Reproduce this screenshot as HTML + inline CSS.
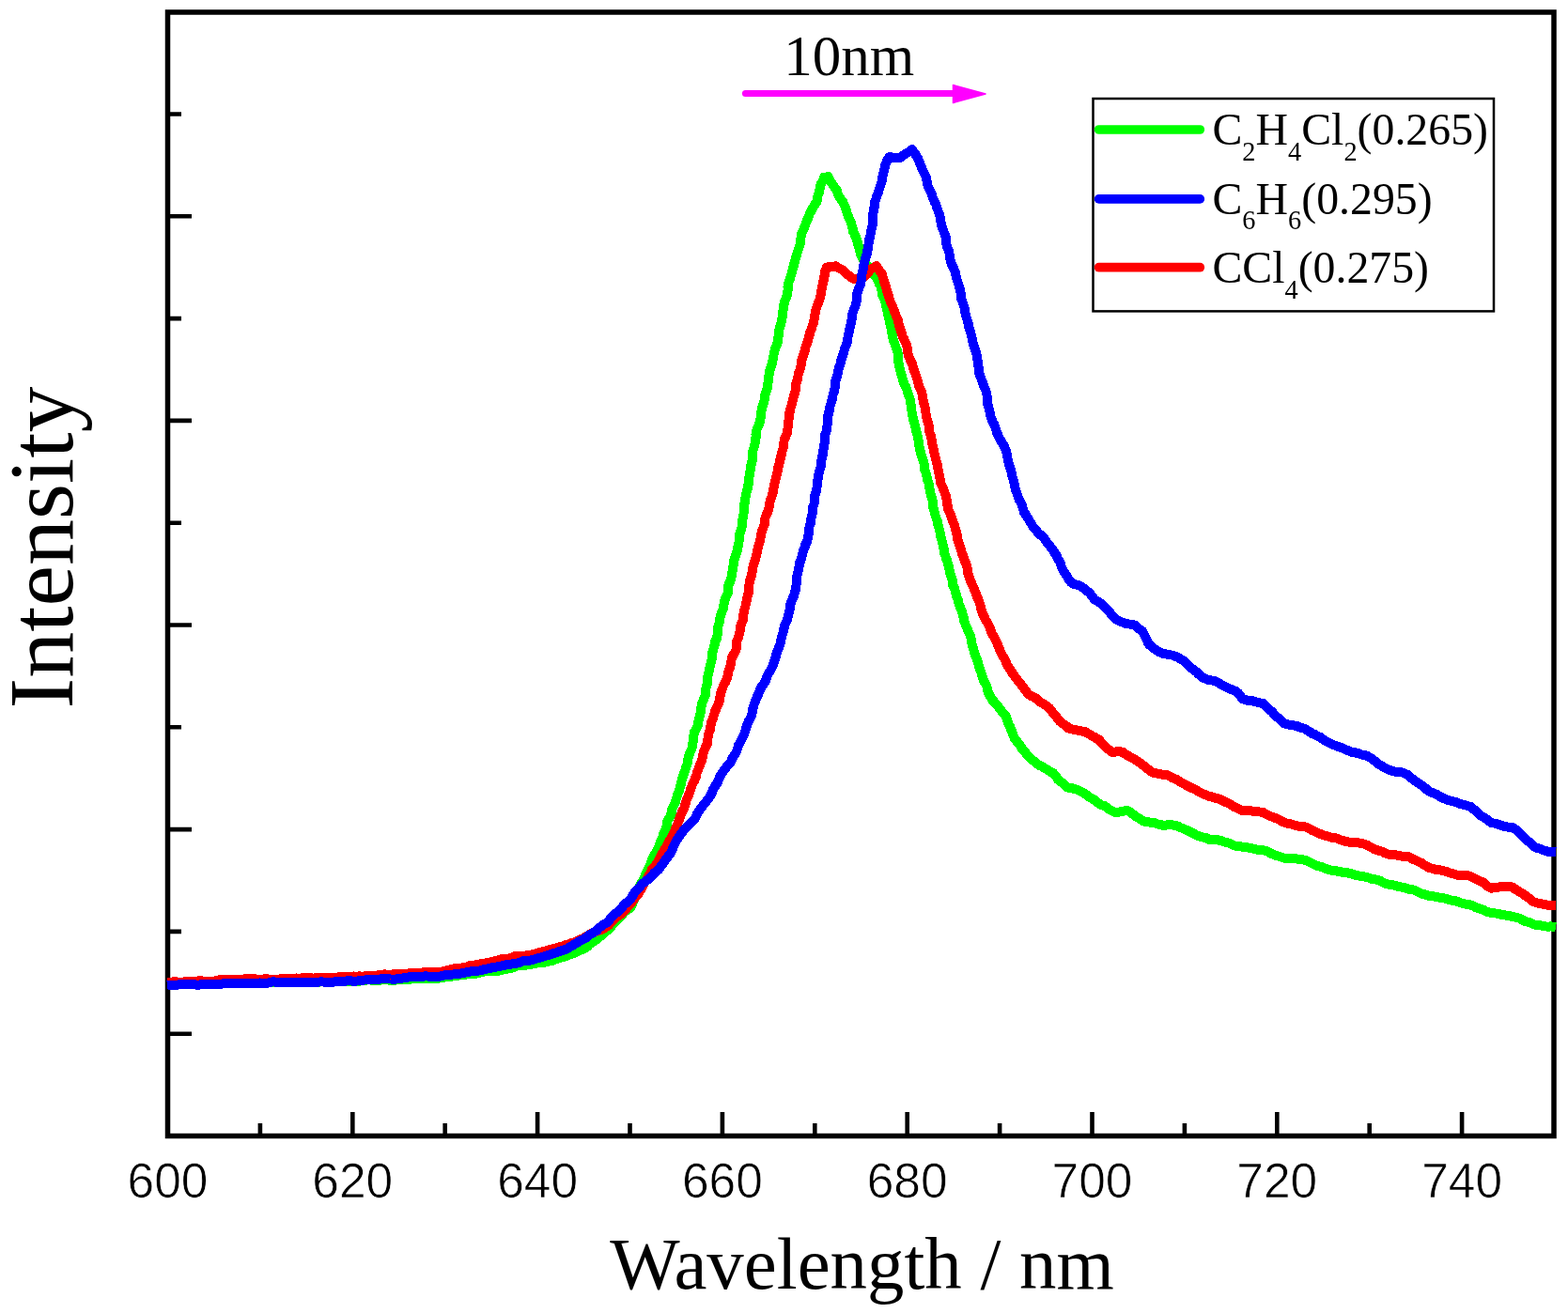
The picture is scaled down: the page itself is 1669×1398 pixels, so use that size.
<!DOCTYPE html><html><head><meta charset="utf-8"><title>Wavelength vs Intensity</title>
<style>html,body{margin:0;padding:0;background:#fff;overflow:hidden;}svg{display:block;}.tk{font-family:"Liberation Sans",Arial,sans-serif;font-size:51.5px;stroke:#fff;stroke-width:0.7px;}.sf{font-family:"Liberation Serif","Times New Roman",serif;}</style></head><body>
<svg width="1669" height="1398" viewBox="0 0 1669 1398">
<rect width="1669" height="1398" fill="#fff"/>
<rect x="178.5" y="13" width="1475.5" height="1196.5" fill="none" stroke="#000" stroke-width="5.5"/>
<path stroke="#000" stroke-width="4.6" fill="none" d="M276.9 1209.5V1196M375.3 1209.5V1184M473.7 1209.5V1196M572.1 1209.5V1184M670.5 1209.5V1196M768.9 1209.5V1184M867.3 1209.5V1196M965.7 1209.5V1184M1064.1 1209.5V1196M1162.5 1209.5V1184M1260.9 1209.5V1196M1359.3 1209.5V1184M1457.7 1209.5V1196M1556.1 1209.5V1184M178.5 121.5H193M178.5 230.3H204M178.5 339.1H193M178.5 447.9H204M178.5 556.7H193M178.5 665.5H204M178.5 774.3H193M178.5 883.1H204M178.5 991.9H193M178.5 1100.7H204"/>
<g fill="none" stroke-width="10" stroke-linejoin="round" stroke-linecap="butt">
<path shape-rendering="crispEdges" stroke="#00ff00" d="M178.0 1048.0L181.0 1048.2L183.9 1048.2L186.9 1047.8L189.9 1047.5L192.8 1047.8L195.8 1048.0L198.8 1047.6L201.7 1047.1L204.7 1047.0L207.7 1047.3L210.7 1047.8L213.6 1047.1L216.6 1047.0L219.5 1046.9L222.5 1047.1L225.5 1047.5L228.5 1047.6L231.4 1047.3L234.4 1046.5L237.3 1046.1L240.3 1046.9L243.3 1047.1L246.3 1046.8L249.2 1046.3L252.2 1045.9L255.1 1045.9L258.1 1045.8L261.1 1046.2L264.1 1046.1L267.0 1045.9L270.0 1045.6L273.0 1045.8L276.1 1045.8L279.1 1045.6L282.1 1045.8L285.2 1046.0L288.2 1046.5L291.2 1045.9L294.2 1046.3L297.3 1046.4L300.3 1046.3L303.3 1045.7L306.4 1045.6L309.4 1046.0L312.4 1046.5L315.5 1046.2L318.5 1046.3L321.5 1046.0L324.5 1045.9L327.6 1045.6L330.6 1045.7L333.6 1046.2L336.7 1046.1L339.7 1045.8L342.7 1045.0L345.8 1044.8L348.8 1044.9L351.8 1045.2L354.8 1045.1L357.9 1044.8L360.9 1045.1L363.9 1045.4L367.0 1045.3L370.0 1045.0L373.0 1044.7L376.1 1045.0L379.1 1044.9L382.1 1044.7L385.1 1044.3L388.2 1043.8L391.2 1043.4L394.2 1043.4L397.3 1044.1L400.3 1044.5L403.3 1044.1L406.4 1043.3L409.4 1043.1L412.4 1043.4L415.5 1043.8L418.5 1043.7L421.5 1043.5L424.5 1042.9L427.6 1042.8L430.6 1042.7L433.7 1042.9L436.7 1042.8L439.7 1042.0L442.7 1041.9L445.8 1042.2L448.8 1041.9L451.8 1041.9L454.9 1041.7L457.9 1042.3L460.9 1042.2L464.0 1042.0L467.0 1041.6L470.0 1041.3L473.0 1040.6L476.0 1039.9L479.0 1039.7L482.0 1039.5L485.0 1039.2L488.0 1038.6L491.0 1038.1L494.0 1037.9L497.0 1037.4L500.0 1037.0L503.0 1036.9L506.0 1036.7L509.0 1036.3L512.0 1035.4L514.9 1034.7L517.9 1034.1L520.9 1034.1L524.0 1034.1L527.1 1034.1L530.1 1033.8L533.1 1033.3L536.1 1032.3L539.1 1031.8L542.0 1031.2L545.0 1030.6L547.9 1029.4L550.8 1028.3L553.9 1028.4L556.9 1028.1L559.9 1027.7L562.9 1027.1L565.9 1026.6L568.7 1026.2L571.5 1025.4L574.3 1025.2L577.1 1024.9L579.9 1024.6L582.8 1023.9L585.7 1023.3L588.6 1022.6L591.4 1021.5L594.2 1020.4L597.0 1019.6L599.9 1018.8L602.8 1018.1L605.5 1016.6L608.5 1015.7L611.5 1014.7L614.4 1013.5L617.2 1012.0L620.1 1011.0L622.9 1009.5L625.5 1007.8L627.3 1005.4L630.0 1003.9L632.4 1002.0L635.0 1000.3L637.3 998.3L639.8 996.5L641.8 994.2L644.3 992.4L646.7 990.5L649.2 988.7L650.8 986.1L652.8 983.9L654.8 981.7L657.1 979.8L659.0 977.4L661.2 975.5L663.0 973.0L665.0 970.9L667.3 969.0L669.9 967.3L672.1 965.1L673.2 962.4L673.9 959.6L675.6 957.2L676.7 954.6L677.9 952.0L678.6 949.2L679.2 946.3L680.7 943.9L681.8 941.1L683.6 938.7L684.9 936.0L686.5 933.5L687.2 930.6L688.4 927.9L689.9 925.3L691.6 922.8L692.5 920.0L693.3 917.1L694.2 914.3L695.7 911.3L697.7 908.5L699.4 905.7L701.1 902.8L701.7 899.8L702.9 897.0L703.9 894.2L705.2 891.5L705.9 888.5L707.4 885.8L708.7 883.1L709.5 880.1L709.9 877.1L710.4 874.1L712.2 871.5L713.7 868.8L714.6 865.9L715.0 862.9L715.9 860.0L717.2 857.3L718.8 854.6L719.5 851.6L720.5 848.8L721.3 845.9L722.4 843.1L723.4 840.2L724.0 837.2L725.2 834.4L725.5 831.3L726.4 828.5L727.3 825.7L728.2 822.8L729.5 820.1L730.0 817.2L731.3 814.5L731.8 811.5L732.4 808.6L732.7 805.6L733.9 802.9L734.9 800.1L736.2 797.4L737.0 794.5L737.3 791.6L737.8 788.7L737.9 785.7L738.5 782.8L738.9 779.9L740.3 777.2L741.6 774.6L743.0 771.9L743.3 768.9L743.9 766.0L744.6 763.1L745.3 760.3L746.0 757.4L746.2 754.4L746.7 751.5L747.2 748.5L748.5 745.8L749.6 743.0L750.7 740.3L750.9 737.4L751.2 734.4L751.7 731.6L752.6 728.8L752.9 725.9L753.4 723.0L753.4 720.0L754.0 717.2L754.8 714.3L755.3 711.5L756.0 708.6L756.6 705.8L757.5 703.0L758.0 700.1L757.9 697.1L758.3 694.2L759.4 691.5L759.9 688.6L761.0 685.8L761.3 682.9L762.7 680.2L763.4 677.4L763.9 674.5L764.0 671.5L764.2 668.6L764.7 665.7L765.7 662.9L766.0 659.9L766.5 657.0L767.5 654.2L768.5 651.4L769.7 648.7L769.9 645.7L770.7 642.9L771.0 639.9L772.1 637.1L773.3 634.4L774.8 631.7L774.9 628.7L774.9 625.7L775.4 622.8L776.8 620.1L777.8 617.3L778.5 614.4L779.0 611.5L779.5 608.6L780.0 605.7L780.5 602.8L781.2 599.9L781.3 597.0L781.9 594.2L783.1 591.5L784.0 588.7L784.8 585.9L785.1 583.1L786.1 580.3L786.5 577.4L786.7 574.6L786.8 571.6L787.2 568.7L788.2 566.0L789.2 563.2L789.7 560.3L789.7 557.4L789.9 554.4L790.7 551.6L791.4 548.8L791.6 545.9L791.7 542.9L791.8 540.0L792.1 537.1L793.0 534.3L793.2 531.5L793.7 528.6L794.2 525.7L794.8 522.9L795.8 520.1L796.1 517.3L797.0 514.5L796.9 511.5L797.4 508.7L797.7 505.8L798.1 502.9L798.9 500.1L798.8 497.2L799.8 494.4L800.3 491.6L801.3 488.8L801.3 485.9L801.1 482.9L801.3 480.0L802.3 477.2L803.0 474.4L803.8 471.6L803.7 468.6L804.7 465.8L804.5 462.9L805.1 460.0L805.6 457.2L806.9 454.4L808.1 451.7L808.8 448.8L809.5 446.0L810.0 443.1L810.2 440.1L810.6 437.1L810.9 434.2L812.0 431.4L812.9 428.6L813.6 425.8L813.6 422.8L814.5 420.0L815.5 417.2L816.5 414.4L816.7 411.5L817.3 408.7L817.8 405.8L818.3 402.9L818.4 399.9L819.0 397.1L819.4 394.2L820.4 391.4L821.2 388.6L822.3 385.9L822.6 382.9L823.2 380.1L823.6 377.2L824.3 374.3L825.0 371.5L826.2 368.8L827.2 366.0L828.0 363.2L828.3 360.3L828.7 357.4L828.9 354.5L829.3 351.6L830.0 348.8L831.0 346.1L831.5 343.2L832.1 340.3L832.7 337.5L833.0 334.6L833.4 331.7L833.7 328.8L834.1 325.9L834.7 323.1L835.4 320.2L836.7 317.5L837.7 314.7L838.1 311.8L838.6 308.9L838.5 305.9L839.0 303.0L839.5 300.1L840.8 297.4L841.5 294.5L842.4 291.7L843.1 288.9L844.0 286.0L844.7 283.2L845.4 280.3L846.3 277.4L847.1 274.6L847.8 271.7L848.7 268.9L849.6 266.1L850.6 263.2L851.6 260.5L852.2 257.5L852.4 254.5L852.6 251.5L853.2 248.7L854.5 246.2L855.8 243.6L856.6 240.9L857.6 238.3L858.5 235.6L859.7 233.1L860.9 230.4L861.8 227.5L863.4 225.0L864.4 222.2L866.3 219.8L867.7 217.2L869.5 214.7L869.8 211.3L870.6 208.3L871.7 205.2L872.4 202.1L873.0 199.0L873.7 195.9L875.3 193.7L876.4 191.2L877.2 188.7L879.6 188.5L881.6 188.1L882.7 190.6L884.2 193.4L885.9 196.0L887.4 198.3L889.1 200.4L890.7 202.6L891.5 205.3L892.4 208.0L893.8 210.4L895.5 212.7L897.3 214.9L898.4 217.9L899.7 220.8L900.9 223.8L901.5 226.9L902.8 229.9L903.9 232.8L905.2 235.4L906.2 238.1L906.8 240.8L907.7 243.6L908.0 246.5L909.4 249.0L910.6 251.6L911.8 254.6L912.7 257.7L913.4 260.9L914.6 263.9L915.2 267.1L916.0 270.3L917.1 273.0L918.3 275.6L920.0 278.0L921.7 280.3L923.2 282.7L924.6 285.3L926.3 287.9L928.4 290.3L930.5 292.7L932.6 295.1L934.1 297.9L935.4 300.2L936.1 302.8L937.5 305.0L938.0 307.6L938.7 310.7L939.1 313.8L940.6 316.8L941.6 319.8L942.7 322.8L943.3 326.0L943.9 329.1L944.7 332.1L945.1 335.3L946.2 338.3L946.7 341.4L947.4 344.5L947.9 347.6L948.8 350.7L949.3 353.9L949.7 357.1L950.4 360.2L951.3 363.3L952.4 366.3L953.4 369.3L954.7 372.3L955.5 375.4L955.9 378.6L956.0 381.8L956.2 385.0L956.9 388.0L957.4 391.0L958.3 394.0L958.7 397.1L959.8 400.0L960.6 403.0L961.4 405.9L962.5 408.7L963.9 411.4L965.2 414.2L966.0 417.1L966.8 420.0L968.0 422.7L968.7 425.6L969.3 428.5L969.6 431.4L969.9 434.3L970.4 437.2L970.8 440.1L971.4 443.0L971.9 445.9L972.7 448.7L973.5 451.6L974.2 454.4L974.8 457.3L975.5 460.1L976.3 462.9L977.0 465.8L977.6 468.7L977.8 471.6L978.3 474.5L978.8 477.4L979.6 480.2L980.2 483.1L981.0 485.9L982.0 488.7L983.1 491.4L983.7 494.3L983.9 497.3L984.3 500.2L985.4 503.0L986.1 505.8L986.8 508.7L987.2 511.6L988.5 514.3L989.1 517.2L989.5 520.1L989.8 523.0L990.6 525.9L991.3 528.7L992.3 531.5L992.8 534.4L993.2 537.3L993.3 540.3L994.1 543.2L994.9 546.0L995.6 548.8L996.5 551.7L997.6 554.4L998.1 557.3L998.8 560.2L999.6 563.0L1000.3 565.9L1000.9 568.8L1001.3 571.7L1002.3 574.5L1002.8 577.4L1003.7 580.2L1004.3 583.1L1005.0 586.0L1005.2 589.0L1006.3 591.8L1007.1 594.6L1008.4 597.3L1008.9 600.3L1010.1 603.0L1010.4 606.0L1010.9 608.9L1011.6 611.8L1012.9 614.6L1013.6 617.4L1014.0 620.4L1014.3 623.4L1015.9 626.0L1016.5 628.9L1017.5 631.8L1018.0 634.7L1019.3 637.4L1020.2 640.3L1020.7 643.3L1021.8 646.1L1022.9 648.9L1024.3 651.6L1024.6 654.7L1025.7 657.5L1026.0 660.6L1027.2 663.4L1028.0 666.3L1029.4 668.9L1030.5 671.8L1031.8 674.5L1032.9 677.3L1033.6 680.3L1034.2 683.4L1034.6 686.5L1035.8 689.3L1036.4 692.4L1037.3 695.3L1038.1 698.3L1039.4 701.1L1040.6 704.0L1041.3 707.0L1042.1 710.0L1043.1 712.9L1044.3 715.7L1045.2 718.6L1045.9 721.8L1047.0 724.7L1048.7 727.4L1050.1 730.2L1050.9 733.2L1051.5 736.4L1052.8 739.3L1054.4 742.0L1055.8 744.8L1057.9 746.8L1059.5 749.3L1061.8 751.1L1063.4 753.5L1065.3 755.7L1066.9 758.1L1068.8 760.2L1070.8 762.4L1071.6 765.3L1072.5 768.1L1073.4 770.9L1075.0 773.4L1075.9 776.2L1077.2 778.8L1078.1 781.6L1079.1 784.4L1080.4 787.3L1082.6 789.6L1084.5 792.1L1086.4 794.6L1088.0 797.3L1090.1 799.7L1092.0 802.1L1094.1 804.5L1096.5 806.7L1098.7 808.9L1101.2 810.9L1103.7 812.9L1106.1 815.0L1108.9 816.0L1111.3 817.5L1113.8 818.8L1116.2 820.3L1118.5 822.0L1121.2 823.2L1123.1 825.5L1124.8 827.9L1126.4 830.4L1128.7 832.2L1131.2 833.8L1133.3 835.8L1135.2 837.8L1137.9 838.8L1140.9 839.1L1143.7 840.1L1146.6 840.8L1149.3 842.1L1152.0 843.5L1154.6 844.9L1157.0 846.8L1159.6 848.6L1162.3 850.2L1165.0 851.8L1167.4 853.8L1169.9 855.8L1172.6 857.4L1175.4 858.0L1177.7 859.6L1180.0 861.2L1182.2 862.8L1184.8 863.9L1187.2 865.2L1190.4 864.9L1193.5 864.0L1196.6 863.4L1199.9 862.8L1202.6 864.5L1204.9 866.5L1207.5 868.0L1209.8 869.9L1212.5 871.3L1214.9 873.0L1217.5 874.6L1220.6 875.3L1223.7 875.5L1226.6 876.3L1229.7 876.4L1232.6 877.6L1235.6 878.1L1238.6 879.0L1241.7 878.5L1244.7 878.2L1247.7 878.4L1250.7 879.1L1253.7 879.6L1256.1 881.0L1258.9 882.0L1261.4 883.4L1264.2 884.3L1266.7 885.6L1269.3 886.8L1271.8 888.3L1274.5 889.9L1277.6 890.7L1280.7 891.6L1283.9 892.0L1286.6 893.7L1289.7 894.4L1293.1 894.5L1296.6 894.4L1300.0 895.2L1302.8 896.3L1305.6 896.9L1308.4 897.7L1311.0 898.9L1313.6 900.3L1316.5 900.8L1319.3 901.3L1322.2 901.6L1325.3 902.2L1328.5 902.5L1331.6 903.1L1334.7 903.7L1337.8 904.6L1340.9 905.3L1344.2 905.1L1347.0 905.9L1349.8 906.8L1352.3 908.5L1355.1 909.5L1357.7 910.8L1360.6 911.6L1363.4 912.5L1366.2 913.5L1369.4 914.1L1372.6 914.3L1375.8 914.1L1379.0 914.1L1382.1 914.8L1385.3 915.1L1388.5 915.6L1391.3 916.8L1394.1 917.9L1396.7 919.4L1399.4 920.6L1402.1 921.9L1405.1 922.6L1407.9 923.5L1410.6 924.7L1413.3 925.6L1416.0 926.3L1418.8 927.0L1421.7 927.0L1424.4 927.9L1427.2 928.3L1429.9 929.0L1432.8 928.8L1435.9 929.9L1439.0 930.5L1442.1 931.7L1445.2 932.1L1448.3 933.0L1451.5 933.4L1454.6 933.9L1457.2 934.8L1460.0 935.8L1463.0 936.1L1465.9 936.7L1468.7 937.5L1471.2 939.2L1473.9 940.3L1476.7 941.4L1479.5 941.9L1482.4 942.2L1485.1 943.1L1487.9 943.7L1490.6 944.4L1493.5 944.7L1496.2 945.7L1498.9 946.5L1501.7 947.2L1504.7 947.5L1507.4 948.6L1510.1 949.9L1512.6 951.5L1515.5 952.1L1518.3 952.9L1521.1 953.8L1523.9 954.2L1526.7 954.5L1529.5 954.9L1532.2 955.6L1535.0 956.2L1537.8 956.5L1540.5 957.3L1543.2 958.2L1546.0 958.8L1548.9 959.0L1551.6 960.0L1554.2 961.1L1557.0 961.9L1559.7 962.6L1562.6 962.7L1565.4 963.6L1568.1 964.6L1570.7 966.1L1573.5 967.0L1576.2 968.0L1579.0 968.8L1581.6 970.3L1584.4 971.2L1587.3 972.1L1590.5 972.4L1593.7 972.6L1596.8 973.5L1599.9 974.1L1603.1 974.7L1606.2 975.1L1609.3 975.8L1612.1 976.5L1615.0 977.1L1617.9 978.0L1620.5 979.5L1623.1 980.8L1626.0 981.7L1628.9 982.5L1631.5 983.9L1634.2 984.7L1636.8 985.5L1639.7 985.3L1642.3 985.9L1645.0 986.4L1647.8 986.7L1650.5 986.4L1653.3 986.8L1656.0 987.2"/>
<path shape-rendering="crispEdges" stroke="#ff0000" d="M178.0 1046.0L181.0 1046.3L183.9 1045.4L186.9 1045.2L189.9 1045.7L192.9 1046.1L195.8 1045.5L198.8 1045.3L201.7 1045.1L204.7 1045.2L207.7 1044.7L210.6 1044.5L213.6 1044.2L216.6 1044.6L219.6 1044.9L222.6 1045.3L225.5 1045.0L228.5 1044.5L231.4 1043.8L234.4 1043.2L237.3 1042.7L240.3 1042.8L243.3 1042.9L246.2 1043.1L249.2 1043.4L252.2 1043.4L255.2 1043.5L258.1 1042.8L261.1 1042.3L264.0 1041.9L267.0 1041.7L270.0 1042.0L273.0 1042.5L276.1 1042.9L279.1 1042.6L282.1 1042.4L285.2 1042.4L288.2 1042.8L291.2 1042.8L294.3 1042.7L297.3 1042.6L300.3 1042.1L303.3 1042.2L306.4 1042.3L309.4 1042.0L312.4 1041.8L315.5 1041.5L318.5 1041.7L321.5 1041.4L324.5 1041.1L327.6 1041.4L330.6 1041.3L333.7 1041.6L336.7 1041.0L339.7 1041.2L342.7 1041.2L345.8 1041.2L348.8 1040.9L351.8 1040.8L354.9 1041.0L357.9 1040.8L360.9 1040.2L363.9 1039.8L367.0 1039.9L370.0 1039.7L373.0 1040.1L376.1 1039.5L379.1 1040.0L382.1 1039.3L385.2 1039.7L388.2 1039.4L391.2 1039.4L394.3 1038.9L397.3 1038.6L400.3 1038.6L403.3 1038.2L406.3 1037.7L409.4 1037.4L412.4 1037.8L415.5 1038.0L418.5 1037.4L421.5 1037.2L424.6 1037.1L427.6 1037.6L430.6 1036.9L433.7 1036.8L436.6 1035.9L439.7 1036.1L442.7 1035.6L445.7 1035.5L448.8 1035.6L451.8 1035.3L454.8 1035.3L457.9 1035.2L460.9 1035.1L463.9 1034.7L467.0 1034.5L470.0 1034.5L473.1 1034.4L475.9 1033.1L478.9 1032.5L481.9 1031.5L485.0 1031.4L487.9 1030.6L491.0 1030.7L493.9 1029.6L497.0 1029.6L499.9 1028.3L502.9 1027.9L505.9 1027.4L509.0 1027.0L511.9 1026.3L514.9 1025.7L518.0 1025.3L520.9 1024.6L524.0 1024.2L526.9 1023.3L529.9 1022.7L532.8 1021.5L535.9 1021.3L539.0 1021.2L542.0 1020.4L544.9 1019.6L547.8 1018.3L550.9 1018.0L554.0 1017.7L557.1 1017.7L560.2 1017.4L563.2 1016.8L566.2 1016.3L568.9 1015.6L571.7 1014.9L574.4 1013.9L577.2 1013.4L579.9 1012.8L582.6 1011.8L585.3 1010.9L588.2 1010.5L591.0 1009.7L593.8 1009.0L596.4 1007.8L599.2 1007.3L601.9 1006.1L605.0 1005.5L608.0 1004.2L611.1 1003.5L613.9 1002.0L616.9 1000.7L619.8 999.6L622.6 998.0L625.4 996.6L628.1 994.7L631.0 993.3L633.8 991.9L636.9 991.0L639.9 989.8L642.7 988.5L645.2 986.8L647.8 985.3L649.7 982.9L651.8 980.7L653.7 978.3L656.2 976.6L658.6 974.9L661.3 973.3L663.5 971.2L665.5 968.8L667.4 966.4L669.5 964.2L671.5 961.8L673.4 959.5L675.1 956.8L677.0 954.2L679.3 951.9L681.0 949.1L682.9 946.5L684.3 943.6L685.5 941.1L686.9 938.5L688.5 936.1L689.9 933.6L691.3 931.1L692.7 928.5L693.8 925.9L695.8 923.7L697.6 921.5L699.6 919.3L700.8 916.7L702.1 914.1L703.5 911.7L704.7 909.2L706.1 906.8L707.5 904.4L709.1 902.2L710.3 899.7L711.8 897.0L713.2 894.2L714.8 891.5L716.2 888.7L717.7 885.9L718.8 883.0L720.1 880.2L721.2 877.3L722.3 874.3L723.4 871.4L724.2 868.4L725.6 865.7L726.8 862.8L728.3 860.2L729.2 857.2L730.0 854.2L730.9 851.3L732.3 848.6L733.2 845.6L734.5 842.8L735.2 839.8L736.4 837.0L737.3 834.1L739.1 831.5L740.0 828.6L741.3 825.8L741.7 822.7L743.1 820.0L743.9 817.1L745.1 814.3L746.2 811.5L747.3 808.6L748.0 805.7L748.5 802.6L749.2 799.7L750.5 797.1L751.5 794.4L752.9 791.7L753.4 788.8L753.5 785.9L753.9 783.0L754.6 780.2L755.8 777.5L756.3 774.6L756.6 771.7L757.3 768.8L758.5 766.0L759.3 763.1L760.3 760.2L761.0 757.3L762.5 754.6L763.6 751.8L764.9 749.1L765.7 746.2L766.3 743.2L766.7 740.1L767.4 737.1L768.4 734.3L769.5 731.5L770.7 728.7L772.2 726.0L773.4 723.2L774.5 720.4L774.8 717.3L775.6 714.3L776.6 711.5L777.5 708.7L778.4 705.8L778.5 702.7L779.3 699.9L780.6 697.1L782.2 694.5L783.5 691.8L783.8 688.7L784.0 685.7L784.3 682.8L785.4 680.0L786.4 677.2L787.2 674.4L787.7 671.5L787.9 668.6L788.6 665.7L789.6 662.9L790.8 660.2L791.1 657.3L791.3 654.3L791.8 651.5L792.5 648.6L793.4 645.8L793.8 642.9L794.7 640.1L794.9 637.2L795.9 634.4L796.6 631.6L797.3 628.7L797.2 625.7L797.5 622.8L797.6 619.9L798.5 617.1L799.5 614.3L800.2 611.5L800.7 608.6L800.9 605.7L801.6 602.8L802.4 600.0L803.5 597.3L804.4 594.5L804.9 591.6L805.7 588.8L806.1 585.9L807.0 583.1L807.5 580.2L808.5 577.5L809.3 574.7L809.7 571.8L810.3 568.9L810.8 565.9L811.9 563.1L813.0 560.3L813.9 557.5L814.2 554.5L814.5 551.5L815.4 548.7L816.9 546.0L817.8 543.2L818.6 540.3L818.6 537.3L819.6 534.5L820.2 531.6L821.4 528.9L822.1 526.0L823.0 523.2L823.3 520.2L823.9 517.3L824.6 514.4L825.3 511.6L826.0 508.7L826.6 505.8L827.3 503.0L828.0 500.1L828.4 497.2L829.4 494.4L829.8 491.5L830.6 488.6L831.3 485.8L832.0 482.9L832.6 480.0L833.6 477.2L833.9 474.3L834.4 471.4L834.6 468.5L835.9 465.7L837.1 463.0L838.0 460.2L838.3 457.3L838.8 454.4L839.0 451.5L839.3 448.6L839.7 445.7L839.9 442.8L840.3 439.9L841.0 437.1L841.6 434.2L842.6 431.5L843.2 428.6L844.1 425.8L844.7 423.0L845.4 420.1L846.5 417.3L846.8 414.4L847.0 411.4L847.3 408.4L848.3 405.6L849.1 402.8L849.5 399.9L850.2 396.9L851.4 393.9L852.3 391.0L852.9 387.9L853.1 384.8L853.8 381.8L855.0 378.7L855.9 375.6L857.0 372.6L857.6 369.4L858.7 366.3L859.9 363.3L860.5 360.1L861.6 357.1L862.1 353.8L863.5 350.9L864.4 347.8L865.6 344.7L866.2 341.6L867.0 338.5L867.3 335.3L868.2 332.2L868.6 329.0L869.7 326.0L870.9 323.0L872.1 320.0L873.1 316.9L873.6 313.7L874.1 310.4L874.9 307.3L875.3 304.4L875.8 301.5L876.6 298.7L877.0 295.8L877.9 293.0L877.8 290.0L879.0 287.5L879.8 284.7L883.0 284.0L886.1 283.8L889.4 283.3L892.6 285.3L895.7 286.7L898.5 288.9L900.6 291.1L902.8 293.0L905.3 294.7L907.7 296.6L910.7 296.7L913.5 296.5L916.3 296.1L918.6 296.3L920.6 294.3L922.6 291.9L924.6 289.5L926.5 287.0L928.6 285.6L931.0 284.6L933.0 283.1L934.4 285.5L936.0 287.9L937.8 290.2L939.1 292.7L939.9 295.6L940.7 298.5L941.7 301.4L942.6 304.3L943.4 307.3L944.2 310.2L945.3 313.2L946.1 316.3L947.1 319.3L948.1 322.3L949.6 325.1L950.7 328.1L951.9 331.0L952.9 334.0L954.1 337.0L955.5 339.8L956.0 343.0L957.0 346.0L957.8 349.1L958.8 352.1L960.0 355.0L960.6 358.1L962.2 360.9L963.3 363.9L964.8 366.7L965.6 369.8L965.9 373.0L966.5 376.2L967.1 379.3L968.5 382.2L969.7 384.9L971.1 387.6L971.7 390.5L972.7 393.3L973.6 396.2L974.7 399.0L975.7 401.9L976.6 404.9L977.3 408.0L978.2 411.0L979.3 413.9L980.8 416.7L981.5 419.8L982.0 422.7L982.6 425.6L983.1 428.5L983.9 431.3L984.6 434.2L985.0 437.1L985.5 440.0L986.1 442.8L986.6 445.7L987.4 448.5L988.3 451.4L988.8 454.2L989.2 457.2L989.3 460.1L990.5 462.9L991.1 465.7L991.7 468.6L992.2 471.5L992.6 474.4L993.5 477.2L994.1 480.1L994.5 483.0L995.3 485.8L995.9 488.7L996.9 491.5L997.6 494.3L997.9 497.3L998.6 500.1L999.0 503.0L999.9 505.8L1000.4 508.8L1000.8 511.8L1001.4 514.7L1002.6 517.4L1003.9 520.2L1004.9 523.0L1006.0 525.7L1007.1 528.5L1007.5 531.5L1008.2 534.4L1008.3 537.5L1009.3 540.3L1009.5 543.3L1011.0 546.0L1012.1 548.8L1013.0 551.6L1013.9 554.4L1015.0 557.2L1016.2 560.0L1016.9 562.9L1017.7 565.8L1018.3 568.7L1019.3 571.5L1019.4 574.6L1020.3 577.5L1021.2 580.3L1022.1 583.1L1023.3 585.9L1023.8 588.9L1025.0 591.6L1026.0 594.5L1026.9 597.3L1028.2 600.1L1029.1 602.9L1029.7 605.9L1030.0 609.0L1030.7 611.9L1031.8 614.7L1032.7 617.6L1033.9 620.4L1035.0 623.2L1036.5 625.8L1037.5 628.7L1038.7 631.4L1039.5 634.3L1040.8 637.0L1041.9 639.9L1043.0 642.8L1043.8 645.8L1044.5 648.9L1045.3 651.9L1046.5 654.7L1048.0 657.4L1049.2 660.3L1050.8 662.9L1052.4 665.6L1053.7 668.4L1054.5 671.4L1055.7 674.2L1057.2 676.9L1058.8 679.5L1060.0 682.3L1061.4 685.1L1062.6 687.8L1063.7 690.7L1064.8 693.6L1066.0 696.3L1067.6 699.0L1069.4 701.5L1070.6 704.3L1071.6 707.2L1073.2 709.8L1074.8 712.3L1076.6 714.8L1077.9 717.5L1079.9 719.8L1081.6 722.3L1083.5 724.6L1085.4 727.1L1087.5 729.5L1089.3 732.1L1091.1 734.7L1093.1 737.2L1095.2 739.7L1097.7 741.1L1100.4 742.1L1102.8 743.7L1105.0 745.4L1107.1 747.5L1109.5 748.8L1112.0 750.3L1114.4 752.0L1116.8 753.8L1118.5 756.2L1120.3 758.5L1122.3 760.6L1124.2 762.8L1126.0 765.2L1127.7 767.7L1130.0 769.5L1132.5 771.2L1135.0 772.9L1136.9 775.2L1139.8 776.1L1142.7 776.8L1145.7 777.4L1148.8 777.9L1151.7 778.6L1154.8 778.8L1157.3 780.5L1159.8 782.0L1162.3 783.7L1165.0 784.8L1167.5 786.5L1170.2 787.7L1171.8 790.5L1174.1 792.4L1176.0 794.7L1178.2 796.7L1181.1 798.8L1184.0 801.0L1187.6 800.5L1191.0 799.6L1193.4 800.6L1195.9 801.1L1198.2 803.2L1200.9 804.7L1203.5 806.2L1206.3 807.5L1208.8 809.2L1211.2 810.8L1213.5 812.4L1215.7 814.1L1218.0 815.7L1220.1 817.6L1222.3 819.3L1224.5 821.1L1226.8 822.5L1229.8 823.0L1232.7 823.9L1235.7 824.4L1238.7 824.9L1241.7 825.1L1244.5 826.1L1247.0 827.7L1249.7 829.0L1252.5 830.0L1255.1 831.7L1257.6 833.2L1260.3 834.6L1262.8 836.2L1265.4 837.4L1267.9 838.9L1270.6 839.7L1273.2 841.1L1275.6 842.7L1278.1 844.0L1280.6 845.4L1283.7 846.2L1286.5 847.7L1289.7 848.4L1292.6 849.5L1295.8 850.0L1298.8 851.2L1301.4 852.4L1304.0 853.8L1306.6 854.9L1309.2 856.0L1311.6 857.6L1314.0 859.3L1316.7 860.4L1319.3 861.5L1321.9 862.9L1325.2 862.9L1328.4 862.8L1331.6 863.2L1334.7 864.1L1337.8 864.4L1341.0 864.5L1344.1 864.7L1346.7 866.4L1349.5 867.9L1352.4 869.1L1355.3 870.2L1358.2 871.3L1361.2 872.4L1363.8 874.1L1366.5 875.5L1369.1 876.5L1371.9 876.8L1374.6 877.6L1377.3 878.5L1380.1 879.1L1382.8 879.7L1385.7 879.7L1388.5 880.2L1391.4 881.2L1394.1 882.5L1396.7 884.1L1399.5 885.2L1402.1 886.7L1404.9 887.8L1407.7 888.9L1410.5 889.9L1413.3 890.4L1416.0 891.5L1418.9 891.7L1421.7 892.4L1424.5 893.1L1427.1 894.4L1429.8 895.1L1432.6 896.0L1435.4 896.5L1438.2 896.8L1441.1 896.8L1443.9 897.1L1446.7 897.6L1449.4 898.2L1452.2 898.7L1454.9 899.6L1457.6 901.2L1460.2 902.7L1462.8 904.2L1465.8 905.0L1468.6 906.2L1471.6 906.8L1474.2 908.4L1477.0 909.5L1480.1 909.9L1483.3 909.9L1486.4 910.4L1489.5 911.0L1492.6 911.9L1495.8 911.9L1499.0 912.1L1501.7 913.5L1504.4 915.0L1507.2 916.2L1510.1 917.5L1512.9 918.7L1515.3 920.7L1518.2 922.0L1520.8 923.7L1523.7 924.5L1526.5 925.2L1529.2 926.2L1532.1 926.3L1535.0 926.9L1537.7 927.6L1540.5 928.4L1543.2 929.5L1546.3 930.1L1549.4 931.2L1552.5 931.9L1555.8 931.6L1559.0 931.9L1562.2 932.2L1565.3 933.0L1568.1 934.4L1570.8 936.0L1573.6 937.3L1576.6 938.6L1579.4 939.9L1581.8 942.1L1584.3 944.2L1587.2 945.8L1590.6 945.1L1593.7 945.0L1596.9 944.3L1600.0 944.1L1603.2 943.9L1606.4 944.4L1609.4 944.4L1611.6 946.2L1614.5 947.5L1616.8 949.5L1619.7 950.8L1622.1 952.7L1624.8 954.3L1627.2 956.1L1629.6 958.0L1631.8 960.0L1634.3 960.8L1637.0 961.6L1639.7 961.9L1642.4 962.7L1645.1 963.2L1647.8 963.7L1650.5 964.3L1653.3 964.2L1656.0 964.5"/>
<path shape-rendering="crispEdges" stroke="#0000ff" d="M178.0 1049.0L181.0 1048.6L183.9 1048.9L186.9 1048.8L189.9 1048.5L192.8 1047.9L195.8 1048.0L198.8 1048.1L201.7 1048.2L204.7 1048.3L207.7 1048.4L210.7 1048.8L213.6 1048.3L216.6 1048.3L219.5 1047.7L222.5 1047.7L225.5 1047.8L228.5 1048.1L231.4 1048.1L234.4 1047.8L237.4 1047.4L240.3 1047.3L243.3 1047.2L246.3 1047.3L249.2 1046.6L252.2 1046.7L255.2 1046.8L258.1 1047.3L261.1 1047.2L264.1 1047.4L267.1 1047.4L270.0 1047.0L273.0 1047.0L276.1 1046.5L279.1 1046.9L282.1 1046.9L285.2 1046.6L288.2 1045.8L291.2 1045.2L294.2 1045.9L297.3 1046.1L300.3 1046.4L303.3 1045.8L306.4 1045.8L309.4 1045.5L312.4 1045.5L315.5 1045.5L318.5 1045.6L321.5 1046.1L324.6 1046.1L327.6 1046.3L330.6 1046.2L333.7 1046.4L336.7 1046.2L339.7 1045.5L342.7 1045.4L345.8 1045.6L348.8 1046.1L351.8 1045.8L354.9 1045.6L357.9 1044.9L360.9 1045.1L363.9 1044.9L367.0 1044.9L370.0 1044.2L373.0 1044.3L376.1 1044.7L379.1 1044.6L382.1 1044.3L385.1 1043.7L388.2 1043.5L391.2 1042.9L394.2 1043.1L397.3 1043.5L400.3 1043.1L403.3 1042.8L406.3 1041.9L409.4 1042.4L412.4 1041.9L415.5 1042.5L418.5 1042.5L421.6 1042.5L424.6 1042.4L427.6 1041.7L430.6 1041.1L433.6 1040.6L436.6 1040.2L439.7 1040.2L442.7 1039.8L445.7 1040.1L448.8 1039.9L451.8 1039.4L454.8 1039.5L457.9 1039.5L460.9 1040.1L464.0 1039.9L467.0 1039.8L470.0 1039.2L473.0 1038.4L476.0 1038.2L479.0 1037.9L482.0 1037.5L485.0 1037.0L488.1 1036.9L491.1 1036.4L494.0 1035.8L497.0 1035.2L500.0 1034.5L503.0 1034.0L506.0 1033.8L509.0 1033.6L512.1 1033.3L514.9 1032.1L517.9 1031.6L520.9 1031.0L523.9 1030.3L527.0 1029.9L530.0 1029.3L533.0 1028.7L536.0 1028.1L538.9 1027.3L542.0 1027.2L545.0 1026.4L548.0 1025.9L551.1 1025.4L554.0 1024.5L556.9 1023.3L559.9 1022.6L563.0 1022.8L566.1 1022.3L568.8 1021.4L571.6 1020.4L574.4 1019.8L577.2 1019.0L579.9 1018.1L582.6 1017.2L585.4 1016.4L588.2 1015.5L590.9 1014.6L593.7 1013.8L596.4 1012.6L599.2 1011.8L601.9 1010.9L604.7 1009.6L607.2 1007.8L609.9 1006.4L612.5 1004.8L615.1 1003.3L617.6 1001.5L620.4 1000.4L623.0 998.8L625.6 997.2L627.7 995.2L630.4 993.9L632.7 992.2L635.3 990.8L637.2 988.5L639.5 986.7L641.6 984.7L644.3 983.4L646.7 981.7L648.7 979.6L650.1 977.3L652.1 975.4L653.9 973.4L656.6 971.6L659.0 969.5L661.2 967.2L663.2 964.7L665.4 962.4L667.9 960.4L670.5 958.4L672.1 955.9L673.6 953.3L675.1 950.7L677.2 948.7L679.2 946.5L681.1 944.2L682.7 941.7L685.2 939.8L687.7 937.8L690.3 936.2L692.6 934.0L694.7 931.8L696.6 929.4L698.9 927.5L701.4 925.7L702.9 923.0L704.8 920.7L706.5 918.4L708.2 915.9L709.9 913.5L711.7 911.0L713.6 908.5L715.1 905.7L716.2 902.8L717.6 899.9L719.0 897.1L720.4 894.3L722.2 891.7L723.8 889.1L725.9 886.7L727.6 883.9L730.1 881.8L732.0 879.3L734.6 877.3L736.7 874.9L738.9 872.5L740.7 869.9L741.9 866.9L743.6 864.3L745.1 861.6L747.1 859.3L748.8 856.7L750.9 854.4L752.8 852.0L754.8 849.6L756.3 846.9L757.7 844.3L758.6 841.3L760.2 838.8L761.7 836.2L763.5 833.8L764.6 830.9L765.8 828.1L767.1 825.4L768.8 822.9L770.6 820.3L772.5 817.8L774.4 815.2L776.6 812.9L778.4 810.3L779.5 807.3L781.2 804.6L783.0 802.0L784.3 799.3L785.2 796.4L786.0 793.4L787.6 790.8L789.0 788.1L790.4 785.4L791.8 782.8L792.7 779.9L793.6 777.0L794.3 774.0L795.6 771.3L796.5 768.5L798.0 765.9L799.5 763.2L800.4 760.3L800.9 757.3L801.3 754.3L802.3 751.5L803.1 748.6L804.2 745.8L805.3 743.0L806.6 740.4L807.7 737.7L808.8 735.0L810.0 732.3L811.6 729.8L813.3 727.4L814.9 724.9L815.9 722.1L816.8 719.3L818.2 716.7L819.9 714.3L821.4 711.6L822.4 708.8L823.6 706.0L824.4 703.0L825.5 700.2L826.1 697.2L827.0 694.3L828.3 691.5L829.3 688.7L830.5 685.9L831.0 683.0L831.7 680.1L832.3 677.2L833.3 674.4L833.9 671.5L834.6 668.6L835.2 665.7L836.6 663.0L837.8 660.2L838.6 657.4L839.4 654.5L840.0 651.6L840.7 648.7L841.2 645.8L841.4 642.8L842.7 640.0L843.6 637.2L845.0 634.5L845.8 631.7L846.6 628.8L847.1 625.9L847.5 623.0L847.6 620.0L848.1 617.1L848.2 614.2L848.8 611.3L849.5 608.5L850.2 605.6L850.7 602.8L850.8 599.8L852.2 597.1L853.0 594.3L853.7 591.4L854.5 588.6L855.2 585.7L856.6 583.1L857.2 580.2L858.6 577.5L859.4 574.7L860.1 571.9L860.7 569.0L860.5 565.9L861.2 563.1L861.6 560.2L862.7 557.4L862.7 554.5L863.5 551.6L864.3 548.8L864.8 545.9L865.0 543.0L865.2 540.1L866.4 537.3L866.8 534.4L867.0 531.5L867.0 528.6L867.8 525.8L868.8 523.0L869.4 520.2L869.7 517.3L869.9 514.3L870.4 511.5L870.9 508.6L871.2 505.7L871.8 502.9L872.7 500.1L873.5 497.3L874.2 494.5L874.0 491.5L874.8 488.7L875.3 485.8L876.2 483.0L876.4 480.1L876.6 477.2L877.0 474.4L877.8 471.6L877.9 468.7L877.9 465.7L878.2 462.9L879.3 460.1L880.1 457.3L880.3 454.4L880.7 451.5L880.9 448.6L881.2 445.7L881.3 442.8L882.1 440.0L882.7 437.1L883.2 434.3L883.8 431.4L884.8 428.7L885.6 425.8L886.3 423.0L886.6 420.0L887.7 417.3L888.3 414.4L888.9 411.5L889.1 408.5L889.4 405.5L890.2 402.7L891.1 399.9L891.9 396.9L892.5 393.8L893.2 390.8L894.4 387.9L894.9 384.8L896.1 381.9L896.8 378.7L898.1 375.7L898.6 372.5L899.9 369.5L901.0 366.5L902.0 363.3L902.3 360.2L902.9 357.0L903.7 354.0L904.3 350.9L904.9 347.8L905.6 344.7L906.4 341.6L906.8 338.4L906.9 335.2L907.9 332.1L909.0 329.1L910.4 326.2L911.3 323.1L911.7 319.9L911.9 316.7L912.2 313.4L912.9 310.3L914.1 307.3L915.2 304.3L916.4 301.4L916.7 298.2L917.3 295.1L917.4 291.9L918.2 288.8L918.8 285.7L919.4 282.5L919.9 279.4L920.8 276.3L921.7 273.2L922.7 270.2L923.1 267.1L924.1 264.0L924.4 260.9L924.8 257.7L925.3 254.6L926.3 251.6L926.7 248.5L927.2 245.4L928.1 242.3L928.7 239.3L929.2 236.1L928.9 233.0L929.1 229.9L929.5 226.8L929.8 223.7L930.6 220.6L931.1 217.5L931.4 214.5L932.4 211.9L932.9 209.1L934.4 206.6L935.1 203.9L936.0 201.2L936.9 198.5L937.7 195.8L938.7 192.8L939.0 189.6L939.7 186.6L940.5 183.5L941.4 180.4L941.8 177.4L942.6 174.6L943.8 172.0L945.1 169.3L946.9 167.0L949.7 167.5L952.4 167.9L955.2 167.7L958.0 167.9L960.3 166.3L962.6 164.6L965.1 163.1L968.1 161.2L971.0 159.1L972.3 161.6L974.2 163.9L975.6 166.5L977.2 168.9L978.4 171.7L979.3 174.6L980.5 177.4L981.7 180.2L983.1 183.0L984.4 185.5L985.6 188.1L986.2 190.9L986.7 193.7L987.2 196.5L988.1 199.2L989.4 201.8L990.5 204.4L991.9 206.9L992.5 209.8L993.8 212.4L994.8 215.1L996.3 217.6L996.8 220.5L998.0 223.1L999.0 225.8L1000.1 228.8L1000.7 231.9L1001.1 235.1L1001.9 238.1L1002.5 241.3L1003.8 244.2L1004.6 247.2L1006.0 250.2L1006.8 253.2L1007.1 256.4L1007.3 259.6L1008.0 262.7L1009.3 265.6L1010.3 268.6L1010.8 271.8L1011.2 275.0L1011.8 278.2L1012.9 281.2L1014.4 284.1L1015.6 287.1L1016.8 290.0L1017.4 293.2L1018.2 296.3L1019.1 299.4L1020.2 302.4L1021.0 305.5L1022.0 308.5L1022.5 311.7L1023.2 314.8L1023.2 318.1L1024.3 321.0L1025.4 324.0L1026.4 327.0L1027.0 330.1L1027.4 333.2L1028.1 336.3L1029.1 339.3L1030.0 342.4L1030.9 345.4L1031.4 348.5L1032.3 351.6L1033.4 354.6L1034.1 357.7L1034.9 360.7L1035.3 363.9L1036.2 366.9L1037.2 369.9L1038.2 372.9L1039.0 375.9L1039.9 378.9L1040.3 382.1L1040.8 385.2L1041.1 388.3L1041.6 391.4L1042.0 394.5L1042.2 397.7L1043.5 400.7L1044.6 403.7L1045.7 406.7L1046.7 409.7L1048.0 412.7L1049.2 415.6L1050.1 418.7L1050.6 421.6L1050.6 424.6L1051.0 427.4L1051.3 430.3L1052.1 433.1L1052.9 435.9L1053.5 438.7L1054.2 441.5L1054.7 444.5L1055.9 447.1L1056.8 449.8L1058.4 452.3L1059.4 455.0L1060.3 457.7L1061.0 460.6L1062.3 463.1L1063.5 465.8L1064.9 468.3L1066.2 470.9L1067.9 473.4L1069.3 475.9L1070.3 478.7L1071.3 481.4L1072.0 484.2L1072.4 487.4L1072.9 490.6L1073.8 493.6L1074.7 496.7L1075.7 499.7L1076.5 502.7L1077.2 505.8L1077.9 508.9L1079.0 511.9L1079.7 515.0L1080.2 518.2L1080.9 521.3L1082.1 524.2L1083.1 527.2L1083.9 530.0L1085.1 532.6L1086.5 535.1L1087.9 537.6L1088.4 540.4L1089.4 543.1L1090.2 545.9L1092.0 548.1L1093.4 550.5L1095.1 552.9L1096.3 555.4L1097.8 557.9L1099.3 560.3L1100.9 562.5L1102.9 564.4L1104.6 566.7L1106.7 568.8L1108.8 570.7L1110.9 572.7L1112.7 575.0L1114.4 577.4L1116.3 579.6L1118.0 582.0L1119.9 584.2L1121.5 586.6L1122.8 589.3L1124.6 591.6L1125.8 594.4L1127.4 597.0L1128.7 599.7L1129.5 602.6L1130.8 605.4L1132.1 608.1L1133.7 610.6L1135.2 612.9L1136.8 615.3L1138.1 617.9L1140.0 620.0L1142.1 621.5L1144.6 622.2L1147.0 623.0L1149.6 623.6L1151.7 625.1L1153.8 626.4L1156.0 628.7L1158.7 630.5L1160.9 632.8L1162.8 635.4L1164.7 638.0L1167.4 639.8L1170.2 641.5L1172.7 643.4L1174.8 645.5L1177.1 647.6L1179.4 649.5L1181.3 651.9L1183.1 654.4L1185.3 656.5L1187.3 658.8L1189.8 660.5L1192.7 661.9L1195.7 662.8L1198.6 664.1L1201.8 664.5L1205.0 664.9L1208.1 665.6L1210.4 668.2L1213.2 670.1L1216.1 671.9L1217.4 674.5L1218.6 677.1L1219.7 679.7L1221.3 682.2L1222.1 684.9L1224.1 687.2L1226.6 688.9L1228.9 690.9L1231.4 692.6L1233.3 694.1L1235.5 694.9L1238.5 696.0L1241.6 696.5L1244.7 697.3L1247.8 697.6L1250.7 698.8L1253.7 699.8L1256.4 701.7L1259.4 703.1L1262.0 705.2L1264.3 707.6L1266.4 710.1L1269.1 712.1L1271.7 714.3L1274.0 715.8L1275.8 717.8L1278.1 719.4L1279.9 721.4L1282.8 722.3L1285.7 723.7L1288.7 724.3L1291.9 724.8L1294.8 725.8L1297.6 727.2L1299.8 728.9L1302.3 730.2L1304.9 731.4L1307.3 732.7L1310.1 733.8L1312.8 735.0L1315.7 735.9L1318.3 738.3L1320.4 741.1L1322.1 744.1L1324.9 744.9L1327.6 745.7L1330.5 745.7L1333.3 746.3L1336.0 747.1L1338.8 747.9L1341.6 748.5L1344.6 748.9L1346.8 751.3L1348.7 753.6L1351.0 755.5L1353.4 757.2L1355.4 759.5L1357.5 761.6L1359.5 763.8L1362.1 765.4L1363.9 767.8L1366.2 769.8L1368.9 771.0L1371.7 771.6L1374.6 772.1L1377.5 772.5L1380.4 772.9L1383.0 774.3L1385.8 775.1L1388.6 775.9L1391.3 777.5L1394.1 779.1L1396.5 781.3L1399.6 782.1L1402.2 783.8L1405.3 784.8L1407.7 786.9L1410.4 788.5L1413.1 790.1L1415.9 791.3L1418.6 792.8L1421.4 793.8L1424.3 794.9L1427.2 795.8L1430.0 796.9L1432.7 798.3L1435.5 799.3L1438.0 800.7L1441.0 801.0L1443.7 801.7L1446.6 802.3L1449.2 803.5L1452.1 804.0L1454.9 804.7L1457.5 806.2L1460.0 807.8L1462.3 809.5L1464.7 811.3L1467.0 813.2L1469.4 814.8L1471.9 816.3L1474.5 817.8L1477.0 819.1L1479.7 820.1L1482.4 820.9L1485.1 821.7L1488.1 821.6L1490.9 822.2L1493.7 822.7L1496.3 824.1L1498.9 825.1L1500.9 827.4L1503.4 829.3L1505.9 831.1L1508.3 833.0L1511.0 834.5L1513.5 836.2L1516.0 838.1L1518.2 840.2L1520.5 842.4L1523.5 843.5L1526.4 844.8L1529.3 845.8L1531.9 847.6L1534.6 849.1L1537.4 850.4L1540.2 851.7L1543.2 852.5L1546.0 853.2L1548.8 853.8L1551.6 854.8L1554.2 855.9L1557.0 856.7L1559.8 857.3L1562.6 858.3L1565.5 858.9L1567.8 861.1L1570.4 862.8L1572.7 865.1L1574.9 867.3L1577.4 869.2L1580.2 870.8L1582.9 872.4L1585.3 874.5L1587.6 876.3L1590.7 876.6L1593.8 877.4L1596.9 878.4L1599.9 879.6L1603.0 880.2L1606.2 880.9L1609.2 880.8L1611.8 882.1L1614.3 883.8L1616.5 885.8L1618.5 888.0L1620.5 890.2L1622.8 892.1L1624.8 894.3L1627.2 896.1L1629.3 898.2L1631.5 900.2L1634.0 901.9L1636.6 903.0L1639.5 903.8L1642.1 905.1L1645.1 905.9L1648.1 906.8L1650.7 906.6L1653.3 907.0L1656.0 907.3"/>
</g>
<text class="tk" x="178.5" y="1275" text-anchor="middle">600</text>
<text class="tk" x="375.3" y="1275" text-anchor="middle">620</text>
<text class="tk" x="572.1" y="1275" text-anchor="middle">640</text>
<text class="tk" x="768.9" y="1275" text-anchor="middle">660</text>
<text class="tk" x="965.7" y="1275" text-anchor="middle">680</text>
<text class="tk" x="1162.5" y="1275" text-anchor="middle">700</text>
<text class="tk" x="1359.3" y="1275" text-anchor="middle">720</text>
<text class="tk" x="1556.1" y="1275" text-anchor="middle">740</text>
<text class="sf" x="917.5" y="1372" font-size="78.8" text-anchor="middle">Wavelength / nm</text>
<text class="sf" transform="translate(76.8 583) rotate(-90)" x="0" y="0" font-size="98" text-anchor="middle">Intensity</text>
<text class="sf" x="903.7" y="80.4" font-size="61" text-anchor="middle">10nm</text>
<line x1="793.5" y1="99.5" x2="1016" y2="99.5" stroke="#ff00ff" stroke-width="7.2" stroke-linecap="round"/>
<path d="M1014.5 90.5L1049 100L1014.5 109.5Z" fill="#ff00ff" stroke="#ff00ff" stroke-width="1.5" stroke-linejoin="round"/>
<rect x="1163.5" y="105" width="426.5" height="226.4" fill="#fff" stroke="#000" stroke-width="2.5"/>
<g stroke-width="9.7" stroke-linecap="round">
<line x1="1169.6" y1="138.0" x2="1277.3" y2="138.0" stroke="#00ff00"/>
<line x1="1169.6" y1="211.9" x2="1277.3" y2="211.9" stroke="#0000ff"/>
<line x1="1169.6" y1="284.7" x2="1277.3" y2="284.7" stroke="#ff0000"/>
</g>
<g class="sf" font-size="47.8">
<text x="1290.4" y="154.1">C<tspan font-size="28.4" dy="16.8">2</tspan><tspan dy="-16.8">H</tspan><tspan font-size="28.4" dy="16.8">4</tspan><tspan dy="-16.8">Cl</tspan><tspan font-size="28.4" dy="16.8">2</tspan><tspan dy="-16.8">(0.265)</tspan></text>
<text x="1290.4" y="227.6">C<tspan font-size="28.4" dy="16.8">6</tspan><tspan dy="-16.8">H</tspan><tspan font-size="28.4" dy="16.8">6</tspan><tspan dy="-16.8">(0.295)</tspan></text>
<text x="1290.4" y="300.8">CCl<tspan font-size="28.4" dy="16.8">4</tspan><tspan dy="-16.8">(0.275)</tspan></text>
</g>
</svg></body></html>
